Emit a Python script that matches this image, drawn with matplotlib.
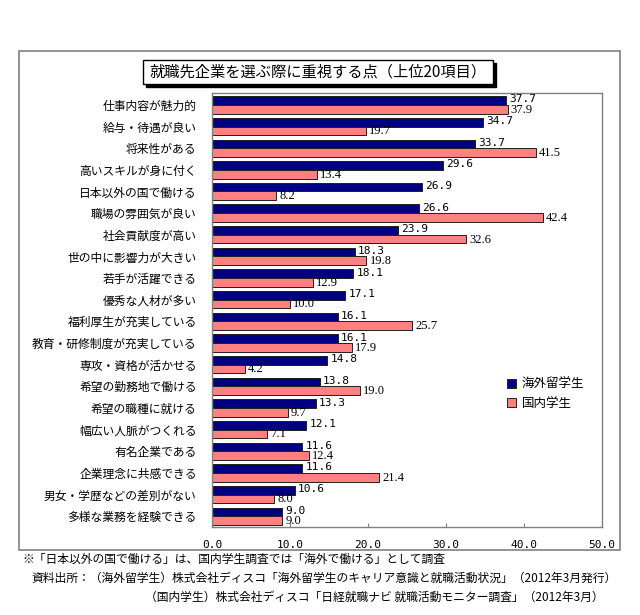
import matplotlib
matplotlib.use("Agg")
import matplotlib.pyplot as plt
from matplotlib.patches import Rectangle

plt.rcParams['font.family'] = ['Noto Sans CJK JP', 'DejaVu Sans']

# データ
categories = ['仕事内容が魅力的', '給与・待遇が良い', '将来性がある', '高いスキルが身に付く',
              '日本以外の国で働ける', '職場の雰囲気が良い', '社会貢献度が高い', '世の中に影響力が大きい',
              '若手が活躍できる', '優秀な人材が多い', '福利厚生が充実している', '教育・研修制度が充実している',
              '専攻・資格が活かせる', '希望の勤務地で働ける', '希望の職種に就ける', '幅広い人脈がつくれる',
              '有名企業である', '企業理念に共感できる', '男女・学歴などの差別がない', '多様な業務を経験できる']
overseas = [37.7, 34.7, 33.7, 29.6, 26.9, 26.6, 23.9, 18.3, 18.1, 17.1,
            16.1, 16.1, 14.8, 13.8, 13.3, 12.1, 11.6, 11.6, 10.6, 9.0]
domestic = [37.9, 19.7, 41.5, 13.4, 8.2, 42.4, 32.6, 19.8, 12.9, 10.0,
            25.7, 17.9, 4.2, 19.0, 9.7, 7.1, 12.4, 21.4, 8.0, 9.0]
series_names = ['海外留学生', '国内学生']
xticks = [0, 10, 20, 30, 40, 50]

W, H = 640, 615
fig = plt.figure(figsize=(W / 100, H / 100), dpi=100)

def fx(x):
    return x / W

def fy(y):
    return 1 - y / H

# 外枠
fig.patches.append(Rectangle((fx(19), fy(550)), fx(601), (550 - 51) / H,
                             transform=fig.transFigure, fill=False,
                             edgecolor='#808080', linewidth=1.2))

# タイトル枠（影付き）
fig.patches.append(Rectangle((fx(146), fy(87)), fx(350), 24 / H,
                             transform=fig.transFigure, facecolor='black',
                             edgecolor='black', linewidth=1))
fig.patches.append(Rectangle((fx(143), fy(84)), fx(350), 24 / H,
                             transform=fig.transFigure, facecolor='white',
                             edgecolor='black', linewidth=1))
fig.text(fx(318), fy(72.5), '就職先企業を選ぶ際に重視する点（上位20項目）',
         ha='center', va='center', fontsize=11)

ax = fig.add_axes([fx(212), fy(527), fx(602 - 212), (527 - 93) / H])

y = list(range(len(categories)))
h = 0.4
ax.barh([v - h / 2 for v in y], overseas, height=h, color='#000080',
        edgecolor='#202020', linewidth=0.7, label=series_names[0])
ax.barh([v + h / 2 for v in y], domestic, height=h, color='#FF8080',
        edgecolor='#202020', linewidth=0.7, label=series_names[1])

for i, v in enumerate(overseas):
    ax.text(v + 0.4, i - h / 2 - 0.05, f'{v:.1f}', va='center', ha='left',
            fontsize=8, family='DejaVu Sans Mono')
for i, v in enumerate(domestic):
    ax.text(v + 0.4, i + h / 2 + 0.02, f'{v:.1f}', va='center', ha='left',
            fontsize=9, family='Liberation Serif')

ax.set_xlim(0, 50)
ax.set_ylim(19.5, -0.55)
ax.set_yticks(y)
ax.set_yticklabels(categories, fontsize=8.5)
ax.tick_params(axis='y', length=0, pad=11)
ax.set_xticks(xticks)
ax.set_xticklabels([f'{t:.1f}' for t in xticks], fontsize=8, family='DejaVu Sans Mono')
ax.tick_params(axis='x', direction='in', length=3, pad=9, color='#808080')
for s in ax.spines.values():
    s.set_edgecolor('#808080')
    s.set_linewidth(1)

fig.legend(loc='center left', bbox_to_anchor=(fx(502), fy(394)), frameon=False,
           fontsize=9, handlelength=0.7, handleheight=0.7, handletextpad=0.5,
           labelspacing=0.45, borderaxespad=0)

# 注記
fig.text(fx(22), fy(559), '※「日本以外の国で働ける」は、国内学生調査では「海外で働ける」として調査',
         ha='left', va='center', fontsize=8.5)
fig.text(fx(617), fy(578),
         '資料出所：（海外留学生）株式会社ディスコ「海外留学生のキャリア意識と就職活動状況」（2012年3月発行）',
         ha='right', va='center', fontsize=8.5)
fig.text(fx(604), fy(597),
         '（国内学生）株式会社ディスコ「日経就職ナビ 就職活動モニター調査」（2012年3月）',
         ha='right', va='center', fontsize=8.5)

fig.savefig('out.png', dpi=100, facecolor='white')
